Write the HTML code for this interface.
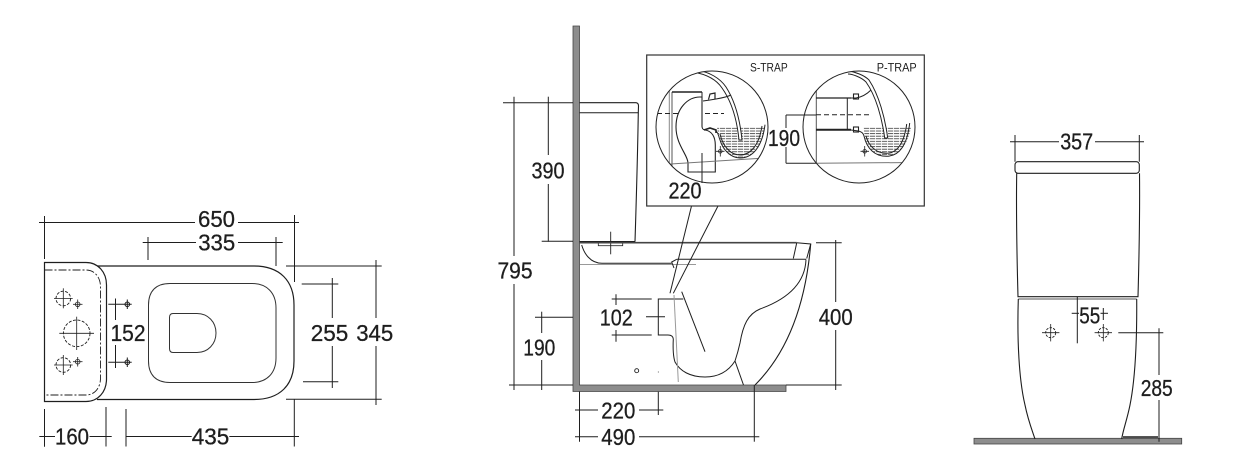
<!DOCTYPE html>
<html><head><meta charset="utf-8"><style>
html,body{margin:0;padding:0;background:#fff;}
svg{display:block;}
text{font-family:"Liberation Sans",Arial,sans-serif;fill:#1e1e1e;}
.d text{stroke:#1e1e1e;stroke-width:0.3;}
</style></head><body>
<svg width="1237" height="462" viewBox="0 0 1237 462" xmlns="http://www.w3.org/2000/svg">
<defs>
<clipPath id="cs"><circle cx="712" cy="127" r="56"/></clipPath>
<clipPath id="cp"><circle cx="859" cy="127" r="56"/></clipPath>
<pattern id="hatch" width="6" height="2.6" patternUnits="userSpaceOnUse"><line x1="0" y1="1" x2="5.2" y2="1" stroke="#333" stroke-width="0.8"/></pattern>
</defs>
<rect x="0" y="0" width="1237" height="462" fill="#fff"/>

<!-- ================= LEFT PLAN VIEW ================= -->
<g fill="none" stroke="#1e1e1e" stroke-width="1">
  <line x1="39" y1="222.5" x2="195" y2="222.5"/>
  <line x1="238" y1="222.5" x2="299" y2="222.5"/>
  <line x1="44.5" y1="216" x2="44.5" y2="259"/>
  <line x1="294.5" y1="215" x2="294.5" y2="282"/>
  <line x1="142.7" y1="242.5" x2="196" y2="242.5"/>
  <line x1="238" y1="242.5" x2="282.7" y2="242.5"/>
  <line x1="148" y1="237" x2="148" y2="260"/>
  <line x1="276" y1="237" x2="276" y2="266"/>

  <path d="M44.5,262.5 L86,262.5 C98,262.5 106.5,272 106.5,285 L106.5,379 C106.5,392 98,401.5 86,401.5 L44.5,401.5 Z" stroke-width="1.2"/>
  <path d="M44.5,270 L86,270 C94.5,270 100.5,277 100.5,287 L100.5,378 C100.5,388 94.5,395 86,395 L44.5,395" stroke-dasharray="8,2,2,2" stroke-width="0.9"/>
  <path d="M97,266 L254,266 C280,266 294,281 294,305 L294,361 C294,385 280,399.5 254,399.5 L97,399.5" stroke-width="1.2"/>
  <path d="M170,283.5 L252,283.5 C267,283.5 276,293 276,308 L276,358 C276,373 267,382.5 252,382.5 L170,382.5 C156,382.5 148.5,375 148.5,361 L148.5,305 C148.5,291 156,283.5 170,283.5 Z" stroke="#333"/>
  <path d="M173,313.5 L197,313.5 C208,313.5 216,322 216,333 C216,344 208,352.5 197,352.5 L173,352.5 C170.5,352.5 169.5,351 169.5,348.5 L169.5,317.5 C169.5,315 170.5,313.5 173,313.5 Z" stroke="#333"/>

  <circle cx="63.3" cy="298.5" r="7.3" stroke-dasharray="3,1.5" stroke-width="0.9"/>
  <line x1="54" y1="298.5" x2="72.7" y2="298.5" stroke-width="0.8"/>
  <line x1="63.3" y1="288.3" x2="63.3" y2="308.3" stroke-width="0.8"/>
  <circle cx="77.7" cy="304.3" r="2.3" stroke-width="0.8"/>
  <line x1="73" y1="304.3" x2="82.5" y2="304.3" stroke-width="0.8"/>
  <line x1="77.7" y1="299.5" x2="77.7" y2="309" stroke-width="0.8"/>

  <circle cx="76.7" cy="333.3" r="13.3" stroke-dasharray="3,1.5" stroke-width="0.9"/>
  <line x1="59.3" y1="333.3" x2="94" y2="333.3" stroke-width="0.8"/>
  <line x1="76.7" y1="316.7" x2="76.7" y2="350" stroke-width="0.8"/>

  <circle cx="63.3" cy="365" r="7.3" stroke-dasharray="3,1.5" stroke-width="0.9"/>
  <line x1="54" y1="365" x2="72.7" y2="365" stroke-width="0.8"/>
  <line x1="63.3" y1="355" x2="63.3" y2="375" stroke-width="0.8"/>
  <circle cx="77.7" cy="361.7" r="2.3" stroke-width="0.8"/>
  <line x1="73" y1="361.7" x2="82.5" y2="361.7" stroke-width="0.8"/>
  <line x1="77.7" y1="357" x2="77.7" y2="366.5" stroke-width="0.8"/>

  <circle cx="127.3" cy="304.3" r="2.3"/>
  <line x1="108.3" y1="304.3" x2="131.7" y2="304.3"/>
  <line x1="127.3" y1="299.5" x2="127.3" y2="309"/>
  <circle cx="127.3" cy="362.3" r="2.3"/>
  <line x1="108.3" y1="362.3" x2="131.7" y2="362.3"/>
  <line x1="127.3" y1="357.5" x2="127.3" y2="367"/>
  <line x1="115.5" y1="298.5" x2="115.5" y2="320"/>
  <line x1="115.5" y1="345" x2="115.5" y2="368"/>

  <line x1="332.3" y1="278" x2="332.3" y2="318"/>
  <line x1="332.3" y1="346" x2="332.3" y2="388"/>
  <line x1="301.7" y1="284" x2="338.3" y2="284"/>
  <line x1="303" y1="381.7" x2="338.3" y2="381.7"/>
  <line x1="376" y1="260" x2="376" y2="318"/>
  <line x1="376" y1="346" x2="376" y2="405"/>
  <line x1="286" y1="266" x2="381.7" y2="266"/>
  <line x1="286" y1="399.3" x2="381.7" y2="399.3"/>

  <line x1="39.3" y1="436.5" x2="55" y2="436.5"/>
  <line x1="89.5" y1="436.5" x2="111.7" y2="436.5"/>
  <line x1="44.5" y1="409" x2="44.5" y2="446.7"/>
  <line x1="106" y1="407" x2="106" y2="446.5"/>
  <line x1="126" y1="436.5" x2="191.7" y2="436.5"/>
  <line x1="229.3" y1="436.5" x2="299" y2="436.5"/>
  <line x1="126" y1="409" x2="126" y2="446.5"/>
  <line x1="294.3" y1="399.5" x2="294.3" y2="446.5"/>
</g>
<g class="d" font-size="23.5" text-anchor="middle">
  <text x="216.5" y="227" textLength="37" lengthAdjust="spacingAndGlyphs">650</text>
  <text x="216.7" y="250.5" textLength="37" lengthAdjust="spacingAndGlyphs">335</text>
  <text x="128" y="341" textLength="35" lengthAdjust="spacingAndGlyphs">152</text>
  <text x="329.5" y="341" textLength="37.5" lengthAdjust="spacingAndGlyphs">255</text>
  <text x="374.7" y="341" textLength="37" lengthAdjust="spacingAndGlyphs">345</text>
  <text x="72" y="444.5" textLength="34" lengthAdjust="spacingAndGlyphs">160</text>
  <text x="210.5" y="444.5" textLength="37.5" lengthAdjust="spacingAndGlyphs">435</text>
</g>

<!-- ================= MIDDLE SIDE VIEW ================= -->
<path d="M573,26 L579.5,26 L579.5,385 L786,385 L786,391.5 L573,391.5 Z" fill="#8d8d8d" stroke="#444" stroke-width="0.8"/>

<g fill="none" stroke="#1e1e1e" stroke-width="1">
  <path d="M579.5,102.7 L636,102.7 Q638.5,103 638.5,106 L638.3,112.7 C637.5,160 636,210 635,241.7" stroke-width="1.1"/>
  <line x1="579.5" y1="112.7" x2="638.3" y2="112.7"/>
  <line x1="579.5" y1="241.5" x2="635" y2="241.5"/>
  <rect x="598.3" y="242.5" width="24.4" height="3.2" stroke-width="0.8"/>
  <line x1="610.7" y1="231.7" x2="610.7" y2="254.3" stroke-width="0.9"/>
  <line x1="579.5" y1="242.7" x2="796.7" y2="242.7" stroke="#444" stroke-width="1.6"/>
  <path d="M796.7,242.7 L810.7,244 L806.7,258.5"/>
  <path d="M796.7,243 L793.3,258.5"/>
  <line x1="676.7" y1="259.3" x2="806" y2="259.3"/>
  <path d="M581.7,245 C584,253 590,263.3 602,263.3 L671.7,263.3"/>
  <line x1="580" y1="264.5" x2="696" y2="264.5" stroke="#999"/>
  <path d="M676.7,259.3 L671.7,262 L674,268"/>
  <path d="M806,259.5 C805,285 785,300 760,309 C748,314 743,325 740,343 C738,352 736,358 735,361 L743.5,385"/>
  <path d="M810.7,244 C806,300 790,350 755,385" stroke-width="1.1"/>
  <path d="M735,361 C728,372 718,377 705,377 C690,377 680,371 675,362 C673,356 673,345 673.3,339 C673,336 670.5,335 668,335 L658.3,335 L658.3,299 L683.3,299"/>
  <line x1="674" y1="295" x2="678.3" y2="382" stroke="#999"/>
  <line x1="681.7" y1="291.7" x2="705" y2="351.7"/>
  <circle cx="636.7" cy="370.7" r="2" stroke-width="0.9"/>
  <circle cx="658.3" cy="372" r="0.5" fill="#333" stroke="none"/>
  <line x1="691.5" y1="206" x2="670" y2="293.3"/>
  <line x1="718" y1="206" x2="673.3" y2="293.3"/>

  <line x1="503" y1="102.7" x2="573" y2="102.7"/>
  <line x1="548.3" y1="96.7" x2="548.3" y2="155"/>
  <line x1="548.3" y1="184" x2="548.3" y2="241.7"/>
  <line x1="541.7" y1="241.2" x2="573" y2="241.2"/>
  <line x1="514" y1="96.7" x2="514" y2="256"/>
  <line x1="514" y1="284" x2="514" y2="390"/>
  <line x1="509" y1="385" x2="573" y2="385"/>
  <line x1="535" y1="317.3" x2="573" y2="317.3"/>
  <line x1="541.7" y1="311.7" x2="541.7" y2="333"/>
  <line x1="541.7" y1="360" x2="541.7" y2="390"/>
  <line x1="611.7" y1="299" x2="651.7" y2="299"/>
  <line x1="611.7" y1="335" x2="651.7" y2="335"/>
  <line x1="616" y1="294.3" x2="616" y2="305"/>
  <line x1="616" y1="330" x2="616" y2="341.7"/>
  <line x1="646" y1="316.7" x2="665" y2="316.7"/>
  <line x1="816" y1="242.7" x2="841.7" y2="242.7"/>
  <line x1="786" y1="385" x2="841.7" y2="385"/>
  <line x1="835.7" y1="240" x2="835.7" y2="302"/>
  <line x1="835.7" y1="330" x2="835.7" y2="390"/>
  <line x1="575" y1="410" x2="598" y2="410"/>
  <line x1="639" y1="410" x2="663.3" y2="410"/>
  <line x1="579.5" y1="391.5" x2="579.5" y2="441.7"/>
  <line x1="658.3" y1="391.7" x2="658.3" y2="415"/>
  <line x1="575" y1="436.7" x2="598" y2="436.7"/>
  <line x1="639" y1="436.7" x2="759.3" y2="436.7"/>
  <line x1="754.3" y1="385" x2="754.3" y2="441.7"/>
</g>
<g class="d" font-size="23.5" text-anchor="middle">
  <text x="548" y="178.3" textLength="33" lengthAdjust="spacingAndGlyphs">390</text>
  <text x="515" y="278.3" textLength="35" lengthAdjust="spacingAndGlyphs">795</text>
  <text x="539.3" y="355.3" textLength="32" lengthAdjust="spacingAndGlyphs">190</text>
  <text x="616.3" y="325.5" textLength="33" lengthAdjust="spacingAndGlyphs">102</text>
  <text x="835.7" y="325" textLength="34" lengthAdjust="spacingAndGlyphs">400</text>
  <text x="618.3" y="418.3" textLength="34" lengthAdjust="spacingAndGlyphs">220</text>
  <text x="618.3" y="445" textLength="34" lengthAdjust="spacingAndGlyphs">490</text>
</g>

<!-- ================= INSET ================= -->
<rect x="646.7" y="55" width="277.6" height="151" fill="#fff" stroke="#333" stroke-width="1.2"/>
<g font-size="11.5" fill="#333">
  <text x="750" y="71.7" textLength="37.7" lengthAdjust="spacingAndGlyphs">S-TRAP</text>
  <text x="876.7" y="71.7" textLength="40" lengthAdjust="spacingAndGlyphs">P-TRAP</text>
</g>

<g clip-path="url(#cs)" fill="none" stroke="#222" stroke-width="1">
  <path d="M717,127.5 L765,127.5 C762,148 752,158 740,158 C729,158 721,150 718,134 Z" fill="url(#hatch)" stroke="none"/>
  <line x1="669.3" y1="86" x2="669.3" y2="190" stroke="#888"/>
  <line x1="672" y1="92" x2="672" y2="190" stroke="#555"/>
  <line x1="672" y1="92" x2="702" y2="92" stroke-width="1.6"/>
  <line x1="702" y1="92" x2="702" y2="97"/>
  <line x1="657" y1="113.5" x2="724" y2="113.5" stroke-dasharray="5,3"/>
  <path d="M693,72 C705,74 716,79 722,88 C732,102 737,120 739,140 L742,140 C740,120 735,101 726,87 C720,78 709,72 697,70" fill="#fff"/>
  <path d="M703,101 L710,100 L716,99 C722,98 727,97 731,95"/>
  <path d="M708.5,99.5 L710,94 L715,93 L715,99" stroke-width="1.2"/>
  <path d="M688,172 L688,163 C688,155 676,145 676,127 C676,108 688,97 700,97 L702,97 L702,126 C702,128 703,130 705,130 C712,131 715.3,137 715.3,145 L715.3,172 Z" fill="#fff" stroke-width="1.1"/>
  <path d="M704,130 L710,128 L716,130 L716,133" stroke-width="1.6"/>
  <path d="M716,131 C719,134 718,135 720,140 C723,150 731,158 740,158 C752,158 762,148 765,124.7"/>
  <path d="M720,134 C723,147 731,155 740,155 C750,155 759,146 762,126"/>
  <line x1="658.7" y1="164.7" x2="765" y2="158" stroke="#777"/>
  <circle cx="720.3" cy="151.3" r="1.8" stroke-width="0.8"/>
  <line x1="720.3" y1="146" x2="720.3" y2="156.5" stroke-width="0.8"/>
  <line x1="716" y1="151.3" x2="724.5" y2="151.3" stroke-width="0.8"/>
</g>
<circle cx="712" cy="127" r="56" fill="none" stroke="#222" stroke-width="1"/>
<line x1="702" y1="153" x2="702" y2="183" stroke="#222" stroke-width="1"/>

<g clip-path="url(#cp)" fill="none" stroke="#222" stroke-width="1">
  <path d="M863,127.5 L911,127.5 C907,147 898,156.3 886.3,156.3 C875,156.3 866,148 864,131 Z" fill="url(#hatch)" stroke="none"/>
  <line x1="816.3" y1="81" x2="816.3" y2="164.7" stroke="#555"/>
  <line x1="816" y1="98" x2="851" y2="98" stroke-width="1.3"/>
  <line x1="816" y1="129.7" x2="851" y2="129.7" stroke-width="2"/>
  <line x1="847.3" y1="98" x2="847.3" y2="130"/>
  <line x1="816" y1="114.7" x2="871" y2="114.7" stroke-dasharray="5,3"/>
  <path d="M848,74 C852,74 861,77 866,82 C876,96 882,118 884.7,138 L887.7,138 C885,118 879,95 869,80 C864,75 855,72 849,71" fill="#fff"/>
  <path d="M851,98 L856,98 C862,97 867,94 871,90"/>
  <rect x="853.5" y="94" width="5" height="5" stroke-width="1.1"/>
  <rect x="853.5" y="127" width="5" height="5" stroke-width="1.1"/>
  <path d="M851,130 L858.5,131 C862,132 863,133 864,136 C867,149 875,156.3 886.3,156.3 C898,156.3 907,147 909.7,123"/>
  <path d="M866,136 C869,147 877,153.3 886.3,153.3 C896,153.3 904,145 906.7,124"/>
  <line x1="816" y1="163.3" x2="912" y2="162.5" stroke="#777"/>
  <circle cx="864.7" cy="151.3" r="1.8" stroke-width="0.8"/>
  <line x1="864.7" y1="146" x2="864.7" y2="156.5" stroke-width="0.8"/>
  <line x1="860.5" y1="151.3" x2="869" y2="151.3" stroke-width="0.8"/>
</g>
<circle cx="859" cy="127" r="56" fill="none" stroke="#222" stroke-width="1"/>
<g fill="none" stroke="#222" stroke-width="1">
  <line x1="786" y1="115" x2="816" y2="115"/>
  <line x1="786" y1="163.3" x2="816" y2="163.3"/>
  <line x1="786" y1="115" x2="786" y2="163.3"/>
</g>
<rect x="769.5" y="128" width="30" height="19" fill="#fff"/>
<g class="d" font-size="23.5" text-anchor="middle">
  <text x="784" y="146" textLength="32" lengthAdjust="spacingAndGlyphs">190</text>
  <text x="685" y="198.3" textLength="33" lengthAdjust="spacingAndGlyphs">220</text>
</g>

<!-- ================= RIGHT FRONT VIEW ================= -->
<rect x="974" y="438.3" width="207.7" height="5.7" fill="#8d8d8d" stroke="#444" stroke-width="0.8"/>
<g fill="none" stroke="#1e1e1e" stroke-width="1">
  <line x1="1010" y1="141.7" x2="1059" y2="141.7"/>
  <line x1="1095" y1="141.7" x2="1144" y2="141.7"/>
  <line x1="1015" y1="135" x2="1015" y2="161.7"/>
  <line x1="1139.3" y1="135" x2="1139.3" y2="161.7"/>
  <rect x="1015" y="161.7" width="124.3" height="11.6" rx="3" stroke-width="1.1"/>
  <path d="M1016.7,173.3 C1016,220 1017,260 1018,296.7 L1138,296.7 C1139,260 1140,220 1139.5,173.3" stroke-width="1.1"/>
  <line x1="1018.3" y1="299" x2="1136.7" y2="299" stroke="#555"/>
  <path d="M1018.3,299 C1017,340 1019,380 1025,405 C1028,420 1032,430 1035,439" stroke-width="1.1"/>
  <path d="M1136.7,299 C1137,340 1135,380 1130,405 C1127,420 1123,430 1121.7,439" stroke-width="1.1"/>
  <line x1="1123" y1="437" x2="1158" y2="437" stroke-width="1.4"/>
  <line x1="1077.3" y1="296.7" x2="1077.3" y2="343.3"/>
  <line x1="1103.3" y1="308" x2="1103.3" y2="320"/>
  <line x1="1071.7" y1="313.3" x2="1079" y2="313.3"/>
  <line x1="1100.5" y1="313.3" x2="1108" y2="313.3"/>
  <circle cx="1050.7" cy="332.7" r="5" stroke-dasharray="2.5,1.2" stroke-width="0.9"/>
  <line x1="1042" y1="332.7" x2="1059.4" y2="332.7" stroke-width="0.8"/>
  <line x1="1050.7" y1="324" x2="1050.7" y2="341.4" stroke-width="0.8"/>
  <circle cx="1103.3" cy="332.7" r="5" stroke-dasharray="2.5,1.2" stroke-width="0.9"/>
  <line x1="1094.6" y1="332.7" x2="1112" y2="332.7" stroke-width="0.8"/>
  <line x1="1103.3" y1="324" x2="1103.3" y2="341.4" stroke-width="0.8"/>
  <line x1="1118.3" y1="332.7" x2="1163.3" y2="332.7"/>
  <line x1="1159" y1="328.3" x2="1159" y2="375"/>
  <line x1="1159" y1="400" x2="1159" y2="441.7"/>
</g>
<g class="d" font-size="23.5" text-anchor="middle">
  <text x="1076.7" y="149.3" textLength="33" lengthAdjust="spacingAndGlyphs">357</text>
  <text x="1089.7" y="323.3" textLength="21" lengthAdjust="spacingAndGlyphs">55</text>
  <text x="1156.7" y="396" textLength="32" lengthAdjust="spacingAndGlyphs">285</text>
</g>
</svg>
</body></html>
